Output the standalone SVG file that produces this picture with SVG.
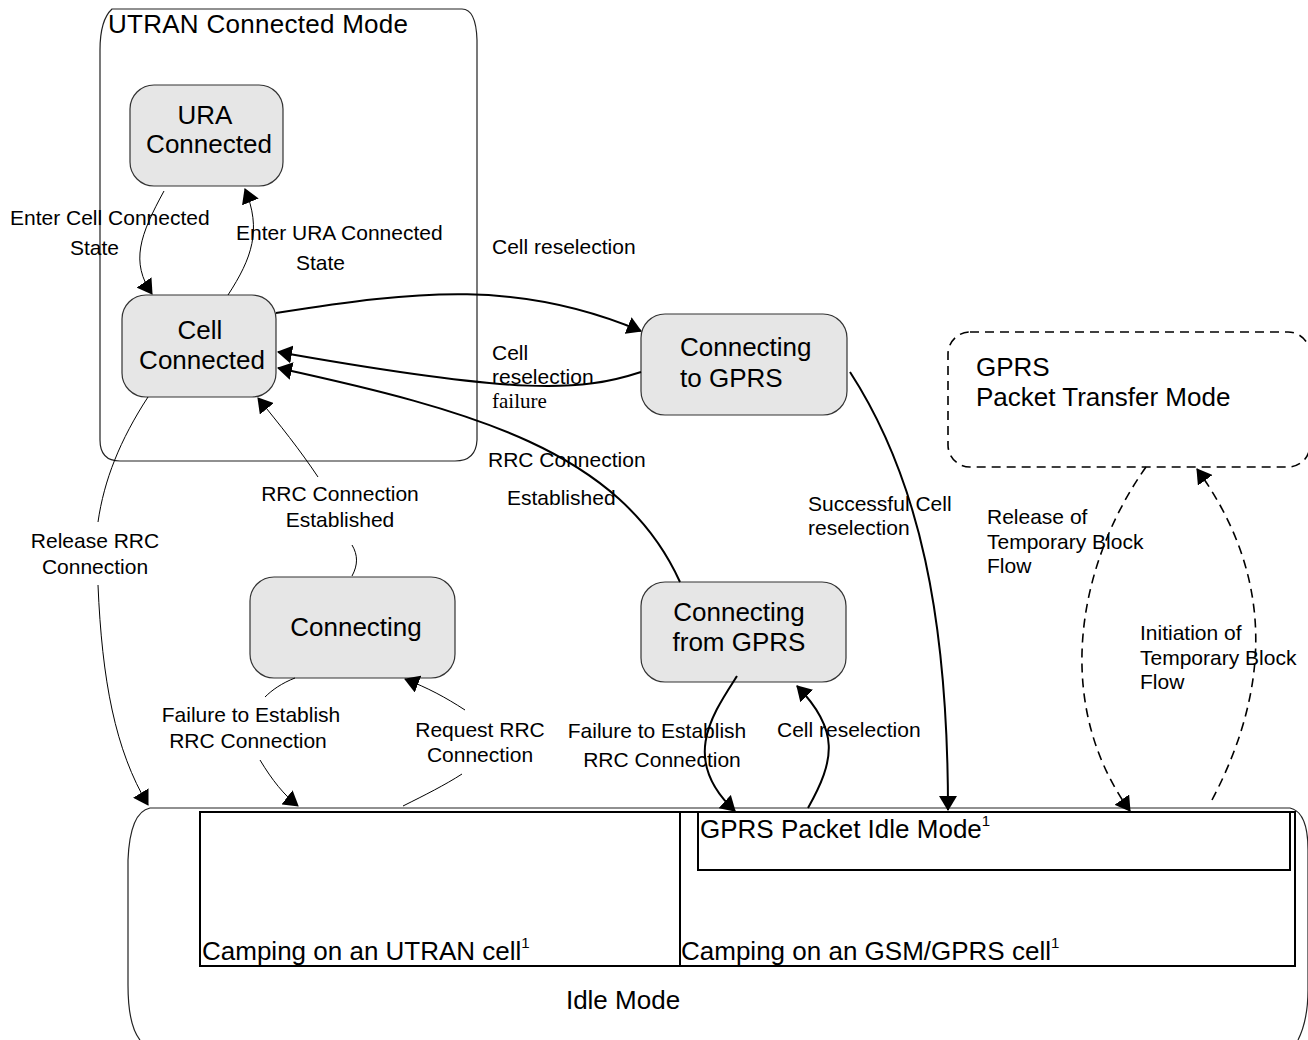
<svg xmlns="http://www.w3.org/2000/svg" width="1308" height="1040" viewBox="0 0 1308 1040">
  <defs>
    <marker id="arr" viewBox="0 0 15 18" refX="14" refY="9" markerWidth="15" markerHeight="18" markerUnits="userSpaceOnUse" orient="auto">
      <path d="M0,0 L15,9 L0,18 Z" fill="#000"/>
    </marker>
    <style>
      .node { fill: #e6e6e6; stroke: #333; stroke-width: 1.2; }
      .frame { fill: none; stroke: #222; stroke-width: 1.2; }
      .box { fill: none; stroke: #000; stroke-width: 2; }
      .dash { fill: none; stroke: #000; stroke-width: 1.6; stroke-dasharray: 9 6; }
      .thick { fill: none; stroke: #000; stroke-width: 2; }
      .thin { fill: none; stroke: #000; stroke-width: 1; }
      .big { font-family: "Liberation Sans", Arial, sans-serif; font-size: 26px; fill: #000; }
      .lbl { font-family: "Liberation Sans", Arial, sans-serif; font-size: 21px; fill: #000; }
      .ser { font-family: "Liberation Serif", "Times New Roman", serif; font-size: 21px; fill: #000; }
      .sup { font-size: 15px; }
      .mid { text-anchor: middle; }
    </style>
  </defs>

  <!-- Containers -->
  <g id="utran-connected-mode">
    <path class="frame" d="M112,9 H462 Q476,9 477,40 V440 Q476,461 455,461 H120 Q100,461 100,440 V50 Q100,20 112,9 Z"/>
    <text class="big" x="108" y="33" textLength="300">UTRAN Connected Mode</text>
  </g>

  <g id="idle-mode">
    <path class="frame" d="M1298,1040 Q1308,1020 1308,990 V850 Q1308,812 1290,808 H150 Q130,812 128,860 V985 Q128,1025 140,1040"/>
    <g id="camping-utran">
      <rect class="box" x="200" y="812" width="480" height="154"/>
      <text class="big" x="202" y="960">Camping on an UTRAN cell<tspan class="sup" dy="-12">1</tspan></text>
    </g>
    <g id="camping-gsm">
      <rect class="box" x="680" y="812" width="615" height="154"/>
      <text class="big" x="681" y="960">Camping on an GSM/GPRS cell<tspan class="sup" dy="-12">1</tspan></text>
    </g>
    <g id="gprs-packet-idle">
      <rect class="box" x="698" y="812" width="592" height="58"/>
      <text class="big" x="700" y="838">GPRS Packet Idle Mode<tspan class="sup" dy="-12">1</tspan></text>
    </g>
    <text class="big mid" x="623" y="1009">Idle Mode</text>
  </g>

  <!-- States -->
  <g id="ura-connected">
    <rect class="node" x="130" y="85" width="153" height="101" rx="24"/>
    <text class="big mid" x="205" y="124">URA</text>
    <text class="big mid" x="209" y="153">Connected</text>
  </g>

  <g id="cell-connected">
    <rect class="node" x="122" y="295" width="154" height="102" rx="24"/>
    <text class="big mid" x="200" y="339">Cell</text>
    <text class="big mid" x="202" y="369">Connected</text>
  </g>

  <g id="connecting-to-gprs">
    <rect class="node" x="641" y="314" width="206" height="101" rx="24"/>
    <text class="big" x="680" y="356">Connecting</text>
    <text class="big" x="680" y="387">to GPRS</text>
  </g>

  <g id="connecting">
    <rect class="node" x="250" y="577" width="205" height="101" rx="24"/>
    <text class="big mid" x="356" y="636">Connecting</text>
  </g>

  <g id="connecting-from-gprs">
    <rect class="node" x="641" y="582" width="205" height="100" rx="24"/>
    <text class="big mid" x="739" y="621">Connecting</text>
    <text class="big mid" x="739" y="651">from GPRS</text>
  </g>

  <g id="gprs-packet-transfer">
    <rect class="dash" x="948" y="332" width="362" height="135" rx="22"/>
    <text class="big" x="976" y="376">GPRS</text>
    <text class="big" x="976" y="406">Packet Transfer Mode</text>
  </g>

  <!-- Transitions -->
  <g id="connectors">
    <path class="thin" d="M164,191 C140,235 130,262 152,294" marker-end="url(#arr)"/>
    <path class="thin" d="M228,295 C252,258 262,230 245,189" marker-end="url(#arr)"/>
    <path class="thick" d="M276,313 C420,290 520,280 641,331" marker-end="url(#arr)"/>
    <path class="thick" d="M641,372 C580,392 520,395 278,352" marker-end="url(#arr)"/>
    <path class="thick" d="M680,582 C620,450 470,410 278,368" marker-end="url(#arr)"/>
    <path class="thin" d="M318,477 C300,450 280,425 258,398" marker-end="url(#arr)"/>
    <path class="thin" d="M352,576 C358,565 358,555 352,545"/>
    <path class="thin" d="M148,397 C120,440 104,480 98,522"/>
    <path class="thin" d="M98,585 C102,680 115,750 148,805" marker-end="url(#arr)"/>
    <path class="thin" d="M295,678 C282,683 272,690 265,697"/>
    <path class="thin" d="M260,760 C272,780 284,795 298,806" marker-end="url(#arr)"/>
    <path class="thin" d="M403,806 C425,795 445,785 462,774"/>
    <path class="thin" d="M465,710 C445,697 428,688 405,679" marker-end="url(#arr)"/>
    <path class="thick" d="M737,676 C712,715 680,760 735,811" marker-end="url(#arr)"/>
    <path class="thick" d="M808,808 C835,760 840,730 797,686" marker-end="url(#arr)"/>
    <path class="thick" d="M850,372 C920,480 948,620 948,810" marker-end="url(#arr)"/>
    <path class="dash" d="M1146,467 C1080,560 1050,700 1130,811" marker-end="url(#arr)"/>
    <path class="dash" d="M1212,800 C1275,680 1270,570 1197,469" marker-end="url(#arr)"/>
  </g>

  <!-- Transition labels -->
  <g id="labels">
    <text class="lbl" x="10" y="225">Enter Cell Connected</text>
    <text class="lbl" x="70" y="255">State</text>
    <text class="lbl" x="236" y="240">Enter URA Connected</text>
    <text class="lbl" x="296" y="270">State</text>
    <text class="lbl" x="492" y="254">Cell reselection</text>
    <text class="lbl" x="492" y="360">Cell</text>
    <text class="lbl" x="492" y="384">reselection</text>
    <text class="ser" x="492" y="408">failure</text>
    <text class="lbl" x="488" y="467">RRC Connection</text>
    <text class="lbl" x="507" y="505">Established</text>
    <text class="lbl mid" x="340" y="501">RRC Connection</text>
    <text class="lbl mid" x="340" y="527">Established</text>
    <text class="lbl mid" x="95" y="548">Release RRC</text>
    <text class="lbl mid" x="95" y="574">Connection</text>
    <text class="lbl" x="808" y="511">Successful Cell</text>
    <text class="lbl" x="808" y="535">reselection</text>
    <text class="lbl" x="987" y="524">Release of</text>
    <text class="lbl" x="987" y="549">Temporary Block</text>
    <text class="lbl" x="987" y="573">Flow</text>
    <text class="lbl" x="1140" y="640">Initiation of</text>
    <text class="lbl" x="1140" y="665">Temporary Block</text>
    <text class="lbl" x="1140" y="689">Flow</text>
    <text class="lbl mid" x="251" y="722">Failure to Establish</text>
    <text class="lbl mid" x="248" y="748">RRC Connection</text>
    <text class="lbl mid" x="480" y="737">Request RRC</text>
    <text class="lbl mid" x="480" y="762">Connection</text>
    <text class="lbl mid" x="657" y="738">Failure to Establish</text>
    <text class="lbl mid" x="662" y="767">RRC Connection</text>
    <text class="lbl" x="777" y="737">Cell reselection</text>
  </g>
</svg>
